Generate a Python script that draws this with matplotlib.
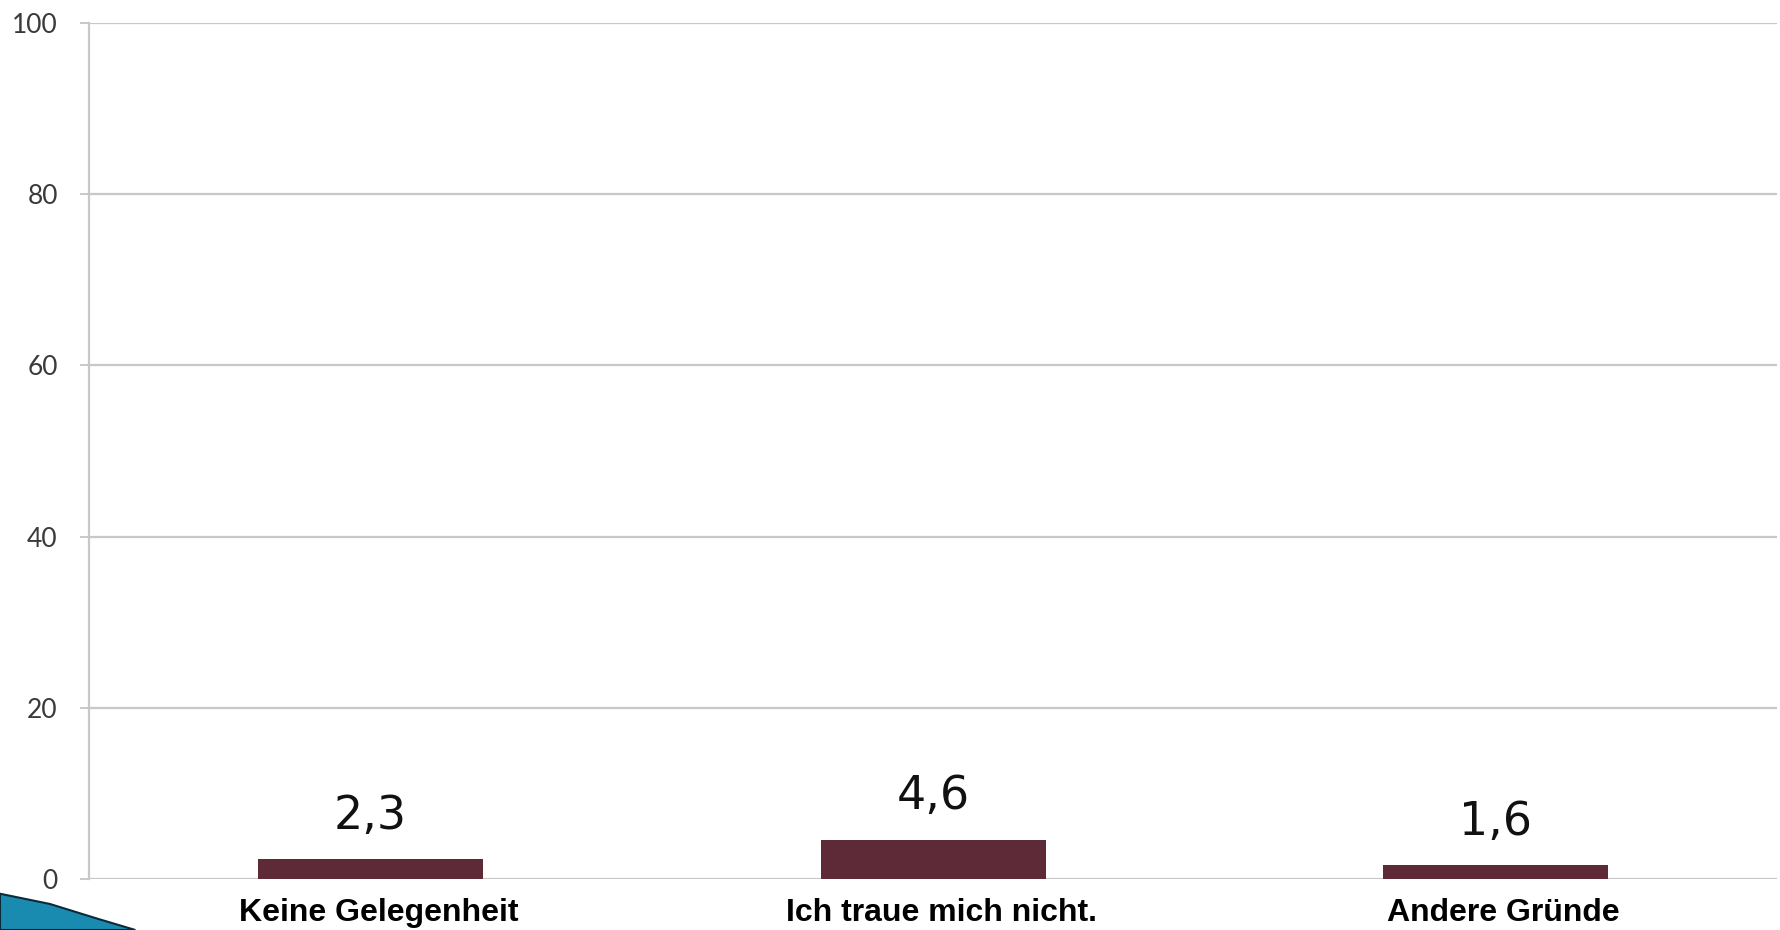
#!/usr/bin/env python3
"""Bar chart: Gruende (Prozent), recreated with matplotlib."""

import matplotlib.pyplot as plt
import matplotlib.transforms as mtransforms
from matplotlib.patches import Polygon

# Data
categories = ['Keine Gelegenheit', 'Ich traue mich nicht.', 'Andere Gründe']
values = [2.3, 4.6, 1.6]
value_labels = ['2,3', '4,6', '1,6']
y_ticks = [0, 20, 40, 60, 80, 100]

BAR_COLOR = '#5f2a37'
GRID_COLOR = '#c8c8c8'


def plot_bars(output_file='out.png'):
    fig = plt.figure(figsize=(17.81, 9.30), dpi=100)
    ax = fig.add_axes([0.05, 0.0548, 0.9478, 0.9205])

    x = range(len(categories))
    bars = ax.bar(x, values, width=0.4, color=BAR_COLOR, zorder=3)

    ax.set_xlim(-0.5, len(categories) - 0.5)
    ax.set_ylim(0, 100)

    # Horizontal grid lines incl. 0 and 100
    ax.set_yticks(y_ticks)
    ax.set_yticklabels([str(t) for t in y_ticks], fontfamily='Lato',
                       fontsize=19, color='#3a3a3a')
    ax.yaxis.grid(True, color=GRID_COLOR, linewidth=1.6, zorder=0)
    ax.set_axisbelow(True)
    ax.tick_params(axis='y', length=6.5, width=1.4, color=GRID_COLOR, pad=16)

    ax.set_xticks(list(x))
    ax.set_xticklabels(categories, fontfamily='Liberation Sans',
                       fontweight='bold', fontsize=23, color='black')
    ax.tick_params(axis='x', length=0, pad=14)
    # labels sit a little right of the bar centres in the original
    shift = mtransforms.ScaledTranslation(8 / 100, 0, fig.dpi_scale_trans)
    for lbl in ax.get_xticklabels():
        lbl.set_transform(lbl.get_transform() + shift)

    for side in ('top', 'right', 'bottom'):
        ax.spines[side].set_visible(False)
    ax.spines['left'].set_color(GRID_COLOR)
    ax.spines['left'].set_linewidth(1.6)

    # Value labels above bars
    for bar, label in zip(bars, value_labels):
        ax.annotate(label, xy=(bar.get_x() + bar.get_width() / 2, bar.get_height()),
                    xytext=(0, 22), textcoords='offset points',
                    ha='center', va='baseline', fontsize=33, color='#111111')

    # Decorative swoosh from the slide template (bottom-left corner)
    swoosh = Polygon([(0, 0), (0, 0.039), (0.028, 0.028), (0.055, 0.012), (0.076, 0)],
                     closed=True, transform=fig.transFigure, facecolor='#1a8bb0',
                     edgecolor='#0c2b3a', linewidth=1.5)
    fig.patches.append(swoosh)

    fig.savefig(output_file, dpi=100)
    plt.close(fig)


if __name__ == '__main__':
    plot_bars()
